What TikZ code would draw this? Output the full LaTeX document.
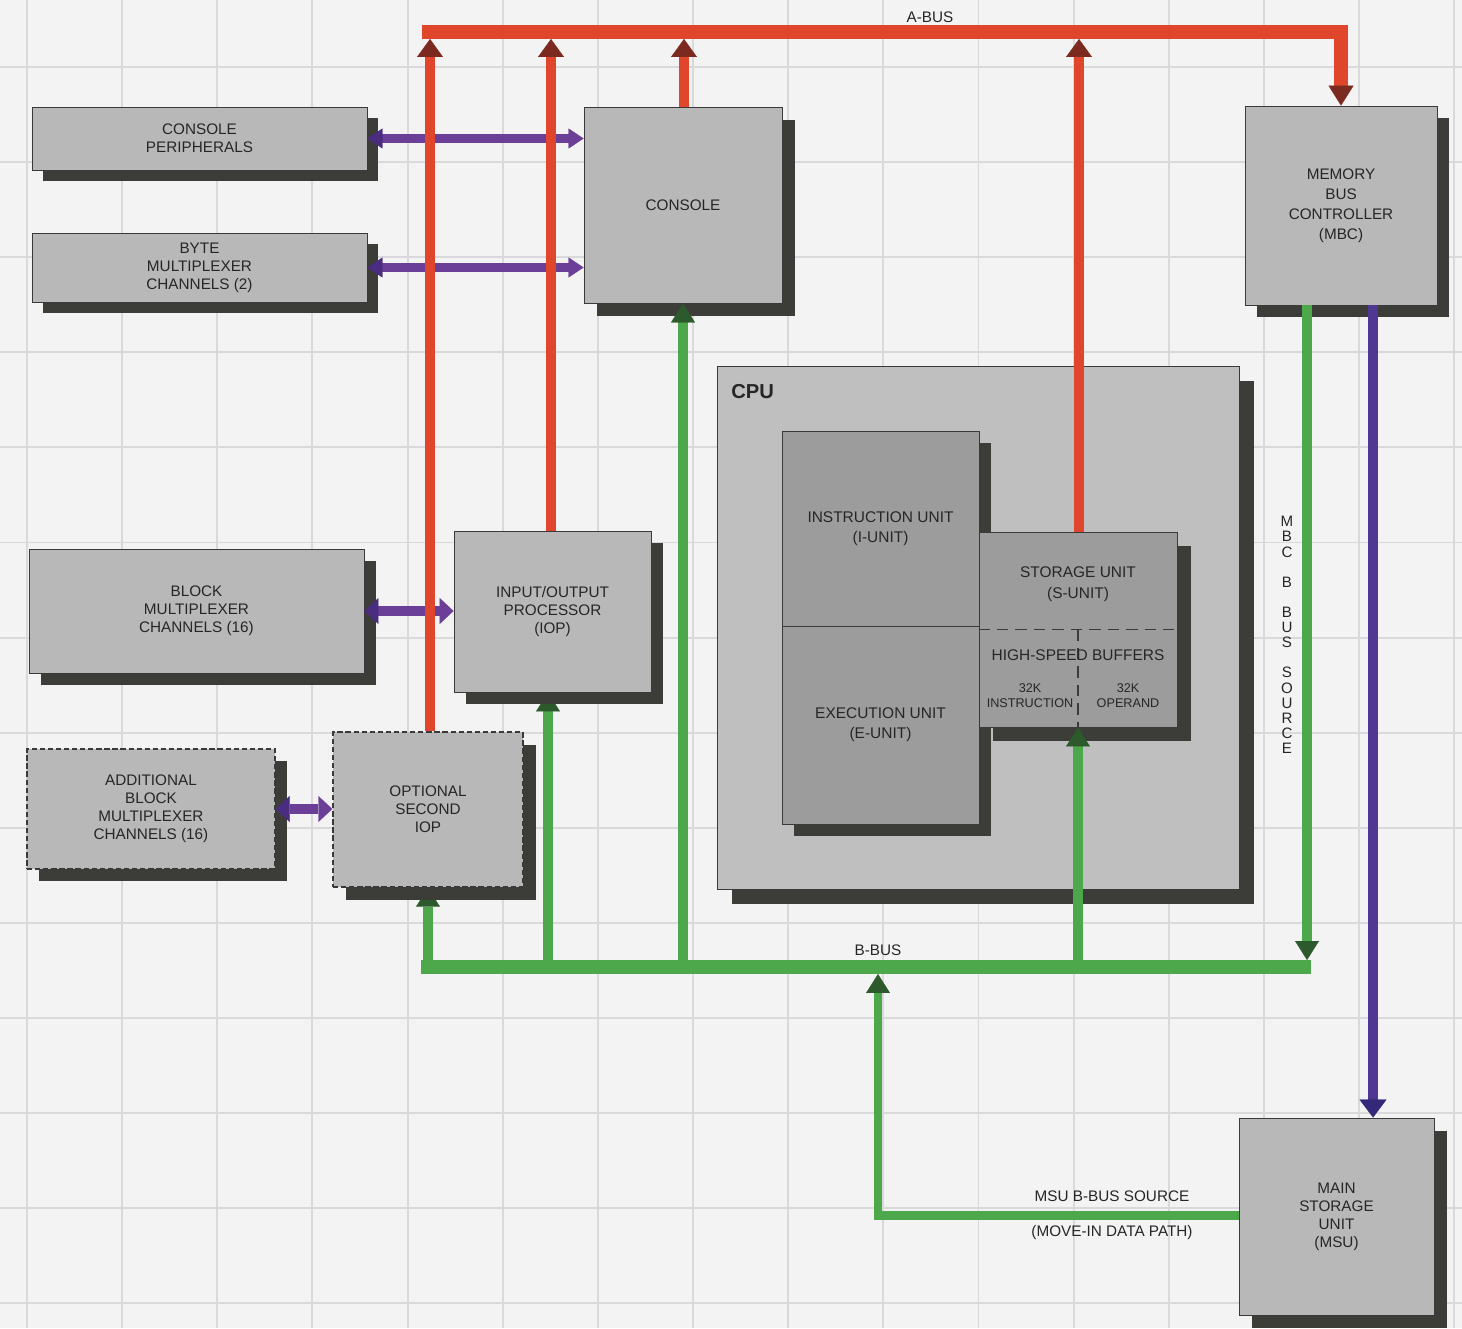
\documentclass[tikz,border=0pt]{standalone}
\usepackage{fontspec}
\setmainfont{Liberation Sans}
\usetikzlibrary{arrows.meta,shadows,calc}
\definecolor{bgc}{HTML}{F3F3F4}
\definecolor{gridc}{HTML}{D9D9DB}
\definecolor{boxc}{HTML}{B8B8B8}
\definecolor{cpuc}{HTML}{BFBFBF}
\definecolor{unitc}{HTML}{9C9C9C}
\definecolor{shadowc}{HTML}{3C3D39}
\definecolor{edgec}{HTML}{3A3A3A}
\definecolor{txtc}{HTML}{262626}
\definecolor{redc}{HTML}{E0462C}
\definecolor{reddk}{HTML}{7C2A20}
\definecolor{purc}{HTML}{6B3F98}
\definecolor{purdk}{HTML}{4A2C80}
\definecolor{indc}{HTML}{4F3892}
\definecolor{indk}{HTML}{33287A}
\definecolor{grc}{HTML}{4DA84B}
\definecolor{grdk}{HTML}{2C5A2C}
\pgfdeclarelayer{bgl}
\pgfdeclarelayer{under}
\pgfsetlayers{bgl,under,main}
\begin{document}
\begin{tikzpicture}[x=0.02cm,y=-0.02cm,
  txt/.style={font=\fontsize{8.7}{10.2}\selectfont, text=txtc, align=center, inner sep=0pt},
  sz/.style 2 args={minimum width=#1*0.02cm, minimum height=#2*0.02cm},
  shd/.style={drop shadow={shadow xshift=#1*0.02cm, shadow yshift=-#1*0.02cm, fill=shadowc, opacity=1}},
  boxst/.style={txt, draw=edgec, line width=0.5pt, fill=boxc},
  dashbox/.style={boxst, dash pattern=on 3pt off 1.6pt, line width=0.8pt},
  dashline/.style={draw=edgec, line width=0.7pt, dash pattern=on 6.5pt off 4pt},
  tR/.tip={Triangle[width=14.7pt,length=10.2pt,line width=0.1pt,color=reddk]},
  tA/.tip={Triangle[width=14.2pt,length=11.3pt,line width=0.1pt,color=reddk]},
  tPl/.tip={Triangle[width=11.3pt,length=8.5pt,line width=0.1pt,color=purdk]},
  tPr/.tip={Triangle[width=11.3pt,length=8.5pt,line width=0.1pt,color=purc]},
  tBl/.tip={Triangle[width=14.7pt,length=7.9pt,line width=0.1pt,color=purdk]},
  tBr/.tip={Triangle[width=14.7pt,length=7.9pt,line width=0.1pt,color=purc]},
  tG/.tip={Triangle[width=13.6pt,length=10.8pt,line width=0.1pt,color=grdk]},
  tI/.tip={Triangle[width=15.3pt,length=10.2pt,line width=0.1pt,color=indk]},
  abus/.style={draw=redc, line width=7.9pt, line join=miter, -tA},
  redup/.style={draw=redc, line width=5.7pt, -tR},
  purA/.style={draw=purc, line width=5.1pt, tPl-tPr},
  purB/.style={draw=purc, line width=6.2pt, tBl-tBr},
  gbus/.style={draw=grc, line width=7.9pt},
  gup/.style={draw=grc, line width=5.9pt, -tG},
  gmsu/.style={draw=grc, line width=5.1pt, line join=miter, -tG},
  pdown/.style={draw=indc, line width=5.7pt, -tI}
]
\useasboundingbox (0,0) rectangle (1462,1328);
\begin{pgfonlayer}{bgl}
  \fill[bgc] (0,0) rectangle (1462,1328);
  \foreach \i in {0,...,15} \draw[gridc, line width=1.1pt] ({27+95.15*\i},0) -- ({27+95.15*\i},1328);
  \foreach \j in {0,...,13} \draw[gridc, line width=1.1pt] (0,{67+95.1*\j}) -- (1462,{67+95.1*\j});
\end{pgfonlayer}

% boxes
\node[boxst, sz={335}{63}, shd=11] (cp) at (199.5,138.5) {CONSOLE\\PERIPHERALS};
\node[boxst, sz={335}{69}, shd=11] (bm) at (199.5,267.5) {BYTE\\MULTIPLEXER\\CHANNELS (2)};
\node[boxst, sz={198}{196}, shd=13] (con) at (683,205) {CONSOLE};
\node[boxst, sz={192}{199}, shd=12, font=\fontsize{8.7}{11.3}\selectfont] (mbc) at (1341,205.5) {MEMORY\\BUS\\CONTROLLER\\(MBC)};
\node[boxst, sz={335}{124}, shd=12] (blk) at (196.5,611) {BLOCK\\MULTIPLEXER\\CHANNELS (16)};
\node[boxst, sz={197}{161}, shd=12] (iop) at (552.5,611.5) {INPUT/OUTPUT\\PROCESSOR\\(IOP)};
\node[dashbox, sz={248}{120}, shd=12] (add) at (151,809) {ADDITIONAL\\BLOCK\\MULTIPLEXER\\CHANNELS (16)};
\node[dashbox, sz={190}{155}, shd=13] (oiop) at (428,809.5) {OPTIONAL\\SECOND\\IOP};
\node[boxst, fill=cpuc, sz={522}{523}, shd=15] (cpu) at (978,627.5) {};
\node[font=\bfseries\fontsize{11.5}{12}\selectfont, text=txtc, anchor=west, inner sep=0pt] (cpul) at (731,392) {CPU};
\node[boxst, fill=unitc, sz={197}{195}, shd=12, font=\fontsize{8.8}{11.4}\selectfont] (iu) at (880.5,528.5) {INSTRUCTION UNIT\\(I-UNIT)};
\node[boxst, fill=unitc, sz={197}{198}, shd=12, font=\fontsize{8.8}{11.4}\selectfont] (eu) at (880.5,725) {EXECUTION UNIT\\(E-UNIT)};
\node[boxst, fill=unitc, sz={198}{195}, shd=14] (su) at (1078,629.5) {};
\draw[dashline] (su.west) -- (su.east);
\draw[dashline] (su.center) -- (su.south);
\node[txt, font=\fontsize{8.8}{11.8}\selectfont] (sut) at (1078,584) {STORAGE UNIT\\(S-UNIT)};
\node[txt, font=\fontsize{8.8}{10}\selectfont] (hsb) at (1078,655) {HIGH-SPEED BUFFERS};
\node[txt, font=\fontsize{7.2}{8.5}\selectfont] (bi) at (1030,696) {32K\\INSTRUCTION};
\node[txt, font=\fontsize{7.2}{8.5}\selectfont] (bo) at (1128,696) {32K\\OPERAND};
\node[boxst, sz={195}{197}, shd=13] (msu) at (1336.5,1216.5) {MAIN\\STORAGE\\UNIT\\(MSU)};

% coordinates
\coordinate (bbL) at (421,967);
\coordinate (bbR) at (1311,967);
\coordinate (giop) at (548,967);
\coordinate (gmbc) at (1307,960);
\coordinate (gturn) at (878,1215);
\coordinate (gin) at (878,974);
\coordinate (pm) at (1373,0);
\coordinate (abL) at (422,32);
\coordinate (r1) at (430,39);
\coordinate (r2) at (551,39);
\coordinate (r3) at (684,39);
\coordinate (r4) at (1079,39);

% green arrows partly hidden by box shadows
\begin{pgfonlayer}{under}
  \draw[gup] (oiop.south |- bbL) -- (oiop.south);
  \draw[gup] (giop) -- (giop |- iop.south);
\end{pgfonlayer}

% B-bus and green paths
\draw[gbus] (bbL) -- (bbR);
\draw[gup] (con.south |- bbL) -- (con.south);
\draw[gup] (su.south |- bbL) -- (su.south);
\draw[gup, -tG] (gmbc |- mbc.south) -- (gmbc);
\draw[gmsu] (msu.west |- gturn) -- (gturn) -- (gin);

% purple paths
\draw[purA] (cp.east) -- (cp.east -| con.west);
\draw[purA] (bm.east) -- (bm.east -| con.west);
\draw[purB] (blk.east) -- (blk.east -| iop.west);
\draw[purB] (add.east) -- (add.east -| oiop.west);
\draw[pdown] (pm |- mbc.south) -- (pm |- msu.north);

% red paths
\draw[redup] (r1 |- oiop.north) -- (r1);
\draw[redup] (r2 |- iop.north) -- (r2);
\draw[redup] (r3 |- con.north) -- (r3);
\draw[redup] (r4 |- su.north) -- (r4);
\draw[abus] (abL) -| (mbc.north);

% labels
\node[txt] (abl) at (930,17) {A-BUS};
\node[txt] (bbl) at (878,950) {B-BUS};
\node[txt] (msul) at (1112,1196) {MSU B-BUS SOURCE};
\node[txt] (movl) at (1112,1233) {(MOVE-IN DATA PATH)};
\node[txt, font=\fontsize{8.6}{8.6}\selectfont] (mbcv) at (1287,635) {M\\B\\C\\[8.6pt]B\\[8.6pt]B\\U\\S\\[8.6pt]S\\O\\U\\R\\C\\E};
\end{tikzpicture}
\end{document}
